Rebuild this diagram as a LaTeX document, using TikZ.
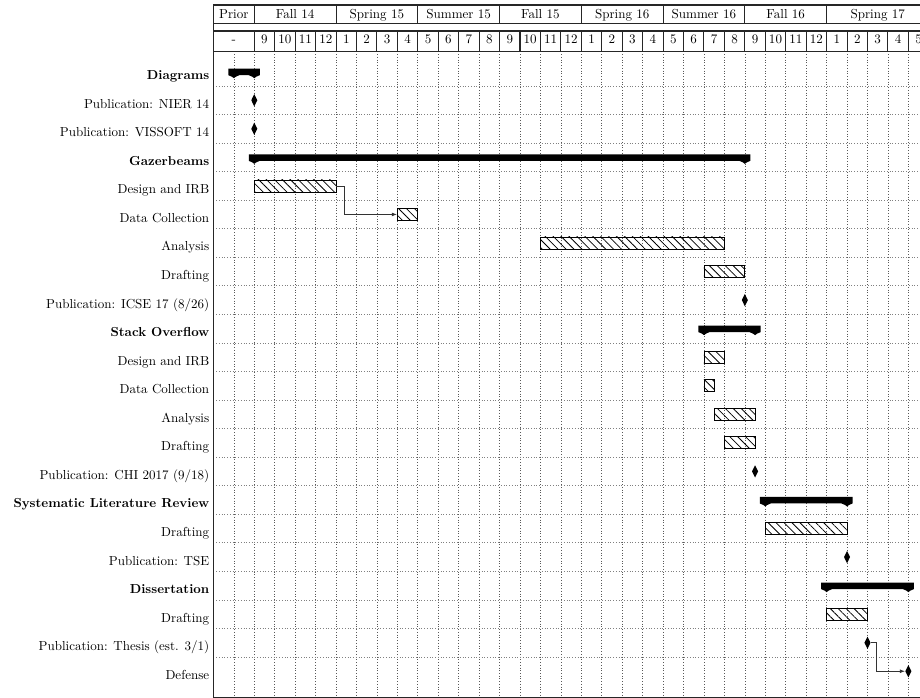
\documentclass[tikz,border=0pt]{standalone}
\usetikzlibrary{patterns.meta,shapes.geometric,fit,arrows.meta}
\newcommand{\gkx}[1]{(213.4+20.44*(#1))}
\newcommand{\gry}[1]{(71.7+28.55*((#1)-1))}
\newcommand{\ggroup}[3]{%
  \pgfmathsetmacro\gL{\gkx{#1}}%
  \pgfmathsetmacro\gR{\gkx{#2}}%
  \pgfmathsetmacro\gc{\gry{#3}}%
  \fill[groupbar] (\gL-5.5,\gc-3) -- (\gR+5.5,\gc-3) -- (\gR+5.5,\gc+3.5)
    .. controls (\gR+2.5,\gc+3.5) and (\gR+1,\gc+6.5) .. (\gR,\gc+6.5)
    .. controls (\gR-1,\gc+6.5) and (\gR-2.5,\gc+3.5) .. (\gR-5.5,\gc+3.5)
    -- (\gL+5.5,\gc+3.5)
    .. controls (\gL+2.5,\gc+3.5) and (\gL+1,\gc+6.5) .. (\gL,\gc+6.5)
    .. controls (\gL-1,\gc+6.5) and (\gL-2.5,\gc+3.5) .. (\gL-5.5,\gc+3.5) -- cycle;}
\begin{document}
\begin{tikzpicture}[x=0.767pt,y=-0.767pt,
  frame/.style={draw=black!85,line width=0.8pt},
  ttext/.style={anchor=base,inner sep=0pt,font=\normalsize},
  vgrid/.style={draw=black!65,line width=0.5pt,dash pattern=on 0.5pt off 1.6pt},
  hgrid/.style={draw=black!50,line width=0.5pt,dash pattern=on 0.5pt off 1.6pt},
  lbl/.style={anchor=base east,inner sep=0pt},
  taskbar/.style={draw=black,line width=0.6pt,inner sep=0pt,
    pattern={Lines[angle=-45,distance=4.3pt,line width=0.6pt]}},
  groupbar/.style={fill=black},
  ms/.style={diamond,fill=black,inner sep=0pt,minimum width=4.8pt,minimum height=9.6pt},
  link/.style={draw=black!80,line width=0.55pt,-{Latex[length=4pt,width=3pt]}}]
\useasboundingbox (0,0) rectangle (920,698);
% grid
\foreach \k in {1,...,34} \draw[vgrid] ({\gkx{\k}},51.5) -- ({\gkx{\k}},697.3);
\foreach \i in {1,...,21} \draw[hgrid] (213.4,{\gry{\i}+14.275}) -- (925,{\gry{\i}+14.275});
% canvas frame
\draw[frame] (213.4,5) rectangle (930,697.3);
% title row 1
\foreach \a/\b/\t [count=\n] in {0/2/Prior,2/6/Fall 14,6/10/Spring 15,10/14/Summer 15,14/18/Fall 15,18/22/Spring 16,22/26/Summer 16,26/30/Fall 16,30/35/Spring 17}{
  \draw[frame] ({\gkx{\a}},5) rectangle ({\gkx{\b}},23.3);
  \node[ttext] (ta\n) at ({(\gkx{\a}+\gkx{\b})/2},18.3) {\t};
}
% title row 2
\draw[frame] ({\gkx{0}},31) rectangle ({\gkx{2}},51.5);
\node[ttext] (tb0) at ({\gkx{1}},43.5) {-};
\foreach \k/\m in {2/9,3/10,4/11,5/12,6/1,7/2,8/3,9/4,10/5,11/6,12/7,13/8,14/9,15/10,16/11,17/12,18/1,19/2,20/3,21/4,22/5,23/6,24/7,25/8,26/9,27/10,28/11,29/12,30/1,31/2,32/3,33/4,34/5}{
  \draw[frame] ({\gkx{\k}},31) rectangle ({\gkx{\k+1}},51.5);
  \node[ttext] (tb\k) at ({\gkx{\k+0.5}},43.5) {\m};
}
% labels
\foreach \t [count=\i] in {\textbf{Diagrams},Publication: NIER 14,Publication: VISSOFT 14,\textbf{Gazerbeams},Design and IRB,Data Collection,Analysis,Drafting,Publication: ICSE 17 (8/26),\textbf{Stack Overflow},Design and IRB,Data Collection,Analysis,Drafting,Publication: CHI 2017 (9/18),\textbf{Systematic Literature Review},Drafting,Publication: TSE,\textbf{Dissertation},Drafting,Publication: Thesis (est. 3/1),Defense}{
  \node[lbl] (l\i) at (209.5,{\gry{\i}+8}) {\t};
}
% group bars
\ggroup{1}{2}{1}
\ggroup{2}{26}{4}
\ggroup{24}{26.5}{10}
\ggroup{27}{31}{16}
\ggroup{30}{34}{19}
% task bars
\node[taskbar,fit={({\gkx{2}},{\gry{5}-6}) ({\gkx{6}},{\gry{5}+6})}] (gdirb) {};
\node[taskbar,fit={({\gkx{9}},{\gry{6}-6}) ({\gkx{10}},{\gry{6}+6})}] (gdc) {};
\node[taskbar,fit={({\gkx{16}},{\gry{7}-6}) ({\gkx{25}},{\gry{7}+6})}] (gan) {};
\node[taskbar,fit={({\gkx{24}},{\gry{8}-6}) ({\gkx{26}},{\gry{8}+6})}] (gdr) {};
\node[taskbar,fit={({\gkx{24}},{\gry{11}-6}) ({\gkx{25}},{\gry{11}+6})}] (sdirb) {};
\node[taskbar,fit={({\gkx{24}},{\gry{12}-6}) ({\gkx{24.5}},{\gry{12}+6})}] (sdc) {};
\node[taskbar,fit={({\gkx{24.5}},{\gry{13}-6}) ({\gkx{26.5}},{\gry{13}+6})}] (san) {};
\node[taskbar,fit={({\gkx{25}},{\gry{14}-6}) ({\gkx{26.5}},{\gry{14}+6})}] (sdr) {};
\node[taskbar,fit={({\gkx{27}},{\gry{17}-6}) ({\gkx{31}},{\gry{17}+6})}] (ldr) {};
\node[taskbar,fit={({\gkx{30}},{\gry{20}-6}) ({\gkx{32}},{\gry{20}+6})}] (ddr) {};
% milestones
\node[ms] (nier) at ({\gkx{2}},{\gry{2}}) {};
\node[ms] (vissoft) at ({\gkx{2}},{\gry{3}}) {};
\node[ms] (icse) at ({\gkx{26}},{\gry{9}}) {};
\node[ms] (chi) at ({\gkx{26.5}},{\gry{15}}) {};
\node[ms] (tse) at ({\gkx{31}},{\gry{18}}) {};
\node[ms] (thesis) at ({\gkx{32}},{\gry{21}}) {};
\node[ms] (defense) at ({\gkx{34}},{\gry{22}}) {};
% links
\draw[link] (gdirb.east) -- ++(8,0) |- (gdc.west);
\draw[link] (thesis.east) -- ++(5.5,0) |- (defense.west);
\end{tikzpicture}
\end{document}
